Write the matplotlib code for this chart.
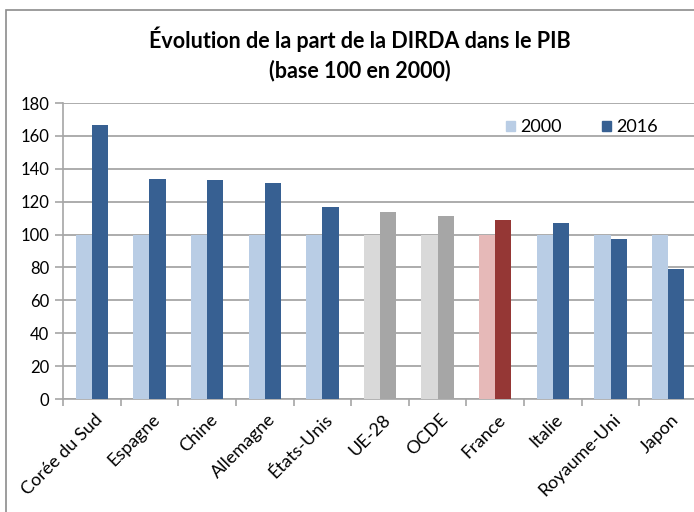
import matplotlib
matplotlib.use('Agg')
import matplotlib.pyplot as plt
import numpy as np
from matplotlib.patches import Rectangle, Patch

plt.rcParams['font.family'] = ['Lato', 'DejaVu Sans']

pays = ['Corée du Sud', 'Espagne', 'Chine', 'Allemagne', 'États-Unis', 'UE-28',
        'OCDE', 'France', 'Italie', 'Royaume-Uni', 'Japon']
v2000 = [100, 100, 100, 100, 100, 100, 100, 100, 100, 100, 100]
v2016 = [166.7, 134.0, 133.1, 131.5, 117.0, 114.0, 111.1, 108.9, 106.8, 97.6, 79.1]
groupe = ['pays', 'pays', 'pays', 'pays', 'pays', 'agg', 'agg', 'fr', 'pays', 'pays', 'pays']

couleurs_2000 = {'pays': '#B9CDE5', 'agg': '#D9D9D9', 'fr': '#E6B9B8'}
couleurs_2016 = {'pays': '#376092', 'agg': '#A6A6A6', 'fr': '#953735'}

fig = plt.figure(figsize=(6.94, 5.12), dpi=100)
# cadre du graphique (coupé à droite et en bas)
fig.patches.append(Rectangle((6/694, -0.1), 1.2, 1 - 10/512 + 0.1, transform=fig.transFigure,
                             fill=False, edgecolor='#8C8C8C', linewidth=1.2))

ax = fig.add_axes([63/694, 1 - 399/512, 634/694, 296/512])

x = np.arange(len(pays))
w = 0.28
ax.bar(x - w/2, v2000, w, color=[couleurs_2000[g] for g in groupe], zorder=3)
ax.bar(x + w/2, v2016, w, color=[couleurs_2016[g] for g in groupe], zorder=3)

ax.set_xlim(-0.5, len(pays) - 0.5)
ax.set_ylim(0, 180)
ax.set_yticks(range(0, 181, 20))
ax.yaxis.grid(True, color='#A6A6A6', linewidth=1.3, zorder=0)
ax.set_axisbelow(True)
ax.tick_params(axis='y', length=6, color='#A6A6A6', width=1.2, labelsize=12, pad=4)

ax.set_xticks(x)
ax.set_xticklabels(pays, rotation=45, ha='right', rotation_mode='anchor', fontsize=13)
ax.set_xticks(np.arange(-0.5, len(pays), 1), minor=True)
ax.tick_params(axis='x', which='major', length=0, pad=9)
ax.tick_params(axis='x', which='minor', length=5, color='#A6A6A6', width=1.2)
for lab in ax.get_xticklabels():
    lab.set_transform(lab.get_transform() + matplotlib.transforms.ScaledTranslation(0.02, 0, fig.dpi_scale_trans))

for s in ['top', 'right']:
    ax.spines[s].set_visible(False)
for s in ['left', 'bottom']:
    ax.spines[s].set_color('#A6A6A6')
    ax.spines[s].set_linewidth(1.2)

handles = [Patch(color='#B9CDE5', label='2000'), Patch(color='#376092', label='2016')]
ax.legend(handles=handles, loc='upper right', bbox_to_anchor=(1.0 - 23/634, 1.0), ncol=2,
          frameon=False, fontsize=13, handlelength=0.5, handleheight=0.5,
          handletextpad=0.3, columnspacing=2.2)

fig.text(360/694, 1 - 54/512, 'Évolution de la part de la DIRDA dans le PIB\n(base 100 en 2000)',
         ha='center', va='center', fontsize=15.5, fontweight='bold', linespacing=1.4)

fig.savefig('out.png', dpi=100)
